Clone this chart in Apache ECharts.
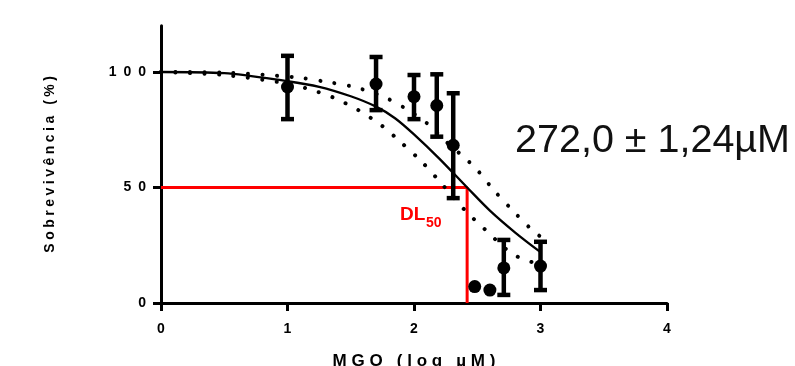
<!DOCTYPE html>
<html>
<head>
<meta charset="utf-8">
<script src="https://cdn.jsdelivr.net/npm/echarts@6/dist/echarts.min.js"></script>
<style>
html,body{margin:0;padding:0;background:#fff;}
#c{width:795px;height:366px;}
</style>
</head>
<body>
<div id="c"></div>
<script>
// ---- data ----
const doseLog      = [1, 1.7, 2.0, 2.18, 2.31, 2.48, 2.6, 2.71, 3.0];
const survivalMean = [93.5, 94.8, 89.3, 85.5, 68.3, 7.1, 5.6, 15.2, 16.0];
const errHigh      = [107, 106.5, 98.7, 99, 90.8, null, null, 27.3, 26.5];
const errLow       = [79.6, 83.5, 79.6, 72, 45.4, null, null, 3.5, 5.6];

const fitX   = [0, 0.5, 1.0, 1.25, 1.5, 1.7, 1.85, 2.0, 2.2, 2.42, 2.6, 2.8, 3.0];
const fitY   = [100, 99.5, 96, 93.6, 89.5, 85, 80, 73, 62.5, 50, 40, 30.5, 22];
const upperX = [0, 0.5, 1.07, 1.3, 1.52, 1.75, 1.93, 2.11, 2.25, 2.42, 2.5, 2.63, 2.77, 2.92, 3.0];
const upperY = [100, 99.7, 97.7, 95.8, 93.6, 89.5, 84.3, 77.5, 70, 61.9, 57.6, 48.9, 40.6, 32.3, 28.7];
const lowerX = [0, 0.5, 1.0, 1.15, 1.36, 1.56, 1.745, 1.9, 2.06, 2.2, 2.4, 2.56, 2.72, 2.81, 2.9, 3.0];
const lowerY = [100, 98.7, 95, 92.9, 89, 83.5, 76.8, 69.4, 61.2, 52.8, 40.3, 31.9, 23.7, 20.3, 18.3, 16.5];

const dl50Log = 2.42;
const dl50Level = 50;

const yTicks = [0, 50, 100];
const xTicks = [0, 1, 2, 3, 4];

const xTitle = 'MGO (log \u00B5M)';
const yTitle = 'Sobreviv\u00EAncia (%)';
const resultText = '272,0 \u00B1 1,24\u00B5M';

// ---- chart ----
const FONT = '"Liberation Sans", Arial, sans-serif';
const spaced = (s, sep) => String(s).split('').join(sep);
const zip = (a, b) => a.map((v, i) => [v, b[i]]);

const barData = [];
const pointData = [];
doseLog.forEach((x, i) => {
  pointData.push([x, survivalMean[i]]);
  if (errHigh[i] != null) barData.push([x, errLow[i], errHigh[i]]);
});

const chart = echarts.init(document.getElementById('c'), null, {renderer: 'canvas'});

const dotted = {color: '#000', width: 4, type: [0.01, 14.5], cap: 'round'};

chart.setOption({
  animation: false,
  backgroundColor: '#fff',
  grid: {left: 161, right: 128, top: 25.8, bottom: 63, containLabel: false, outerBoundsMode: 'none'},
  xAxis: {
    type: 'value', min: 0, max: 4, interval: 1,
    axisLine: {show: true, lineStyle: {color: '#000', width: 3}},
    axisTick: {show: true, length: 8, lineStyle: {color: '#000', width: 3}, customValues: xTicks},
    axisLabel: {customValues: xTicks, margin: 19, color: '#000', fontFamily: FONT, fontWeight: 'bold', fontSize: 14},
    splitLine: {show: false},
    name: spaced(xTitle, ' '),
    nameLocation: 'middle', nameGap: 50,
    nameTextStyle: {color: '#000', fontFamily: FONT, fontWeight: 'bold', fontSize: 17}
  },
  yAxis: {
    type: 'value', min: 0, max: 120,
    axisLine: {show: true, lineStyle: {color: '#000', width: 3}},
    axisTick: {show: true, length: 8, lineStyle: {color: '#000', width: 3}, customValues: yTicks},
    axisLabel: {customValues: yTicks, margin: 15, color: '#000', fontFamily: FONT, fontWeight: 'bold', fontSize: 14,
      formatter: v => spaced(v, '\u2002')},
    splitLine: {show: false},
    name: spaced(yTitle, '\u2005'),
    nameLocation: 'middle', nameGap: 104,
    nameTextStyle: {color: '#000', fontFamily: FONT, fontWeight: 'bold', fontSize: 14}
  },
  series: [
    {
      type: 'line', z: 1, symbol: 'none', silent: true,
      data: [[0, dl50Level], [dl50Log, dl50Level], [dl50Log, 0]],
      lineStyle: {color: '#ff0000', width: 3}
    },
    {
      type: 'line', z: 3, symbol: 'none', smooth: 0.3, data: zip(upperX, upperY), lineStyle: dotted
    },
    {
      type: 'line', z: 3, symbol: 'none', smooth: 0.3, data: zip(lowerX, lowerY), lineStyle: dotted
    },
    {
      type: 'line', z: 4, symbol: 'none', smooth: 0.3, data: zip(fitX, fitY),
      lineStyle: {color: '#000', width: 2.3}
    },
    {
      type: 'custom', z: 5,
      data: barData,
      renderItem: (params, api) => {
        const lo = api.coord([api.value(0), api.value(1)]);
        const hi = api.coord([api.value(0), api.value(2)]);
        const hw = 6.5;
        const st = {stroke: '#000', lineWidth: 4.5};
        return {
          type: 'group',
          children: [
            {type: 'line', shape: {x1: lo[0], y1: lo[1], x2: hi[0], y2: hi[1]}, style: st},
            {type: 'line', shape: {x1: lo[0] - hw, y1: lo[1], x2: lo[0] + hw, y2: lo[1]}, style: st},
            {type: 'line', shape: {x1: hi[0] - hw, y1: hi[1], x2: hi[0] + hw, y2: hi[1]}, style: st}
          ]
        };
      }
    },
    {
      type: 'scatter', z: 6, symbol: 'circle', symbolSize: 13,
      data: pointData, itemStyle: {color: '#000', opacity: 1}
    }
  ],
  graphic: [
    {type: 'text', left: 400, top: 205.5, z: 10,
      style: {text: 'DL', fill: '#ff0000', font: 'bold 19px ' + FONT}},
    {type: 'text', left: 426, top: 216.5, z: 10,
      style: {text: '50', fill: '#ff0000', font: 'bold 14px ' + FONT}},
    {type: 'text', left: 515, top: 121, z: 10,
      style: {text: resultText, fill: '#111', font: '39.5px ' + FONT}}
  ]
});
</script>
</body>
</html>
